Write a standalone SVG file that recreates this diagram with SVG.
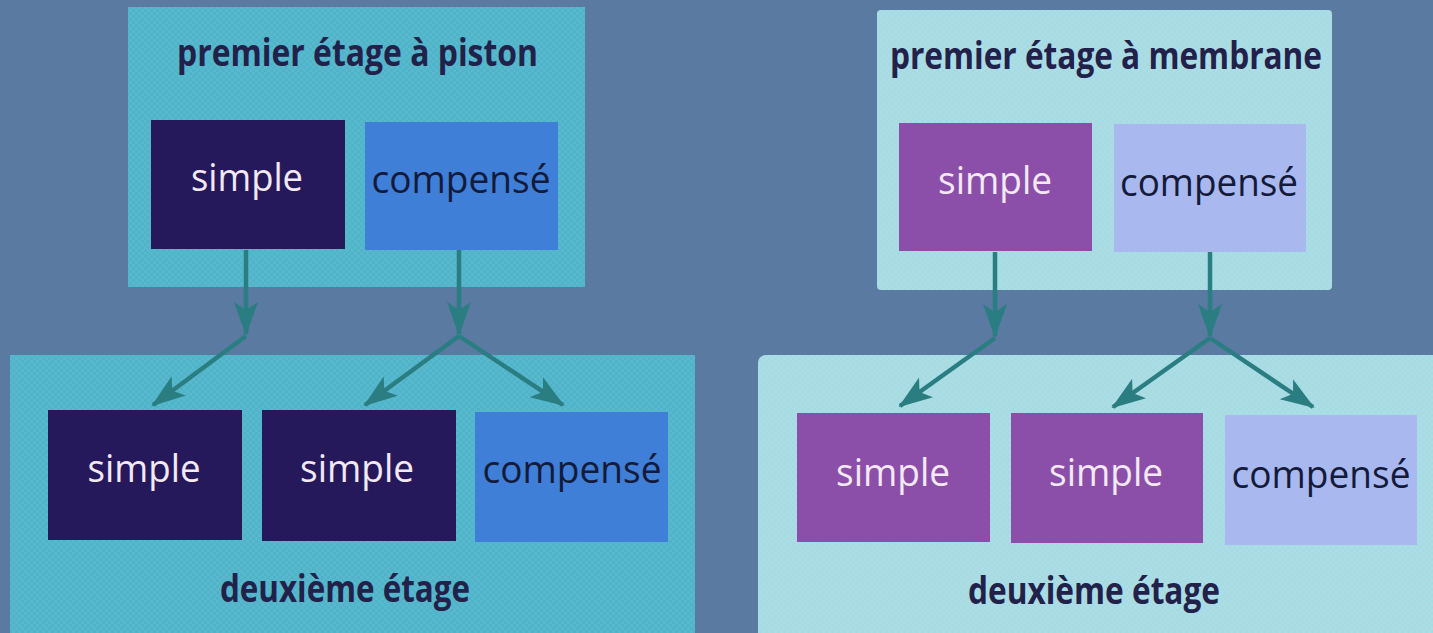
<svg xmlns="http://www.w3.org/2000/svg" width="1433" height="633" viewBox="0 0 1433 633">
<style>
.bg{fill:#5a7aa2}
.pA{fill:#4fb4c9}
.pB{fill:#a7dbe3}
.dk{fill:#26195b}
.bl{fill:#3f7fd7}
.pu{fill:#8b4fa9}
.lv{fill:#a9b9ef}
.title{font-family:"Open Sans","Liberation Sans",sans-serif;font-weight:bold;font-size:37px;fill:#22214a}
.lbl{font-family:"Open Sans","Liberation Sans",sans-serif;font-size:38px;text-anchor:middle}
.lw{fill:#f3e9f3}
.ld{fill:#141a3a}
.con{stroke:#2a7e82;stroke-width:4.5;fill:none;marker-end:url(#ah)}
</style>
<defs>
<marker id="ah" markerUnits="userSpaceOnUse" markerWidth="34" markerHeight="34" viewBox="0 0 34 34" refX="32" refY="17" orient="auto">
<path d="M0,5 L34,17 L0,29 L8,17 Z" fill="#2a7e82"/>
</marker>
<pattern id="tex" width="6" height="6" patternUnits="userSpaceOnUse">
<rect width="3" height="3" fill="#ffffff" opacity="0.06"/>
<rect x="3" y="3" width="3" height="3" fill="#ffffff" opacity="0.06"/>
</pattern>
</defs>
<rect class="bg" width="1433" height="633"/>

<g id="left-top">
<rect class="pA" x="128" y="7" width="457" height="280"/>
<rect fill="url(#tex)" x="128" y="7" width="457" height="280"/>
<text class="title" x="177" y="66" textLength="361" lengthAdjust="spacingAndGlyphs">premier étage à piston</text>
</g>
<g id="lt-simple">
<rect class="dk" x="151" y="120" width="194" height="129"/>
<text class="lbl lw" x="247" y="191" textLength="112" lengthAdjust="spacingAndGlyphs">simple</text>
</g>
<g id="lt-compense">
<rect class="bl" x="365" y="122" width="193" height="128"/>
<text class="lbl ld" x="461" y="193" textLength="179" lengthAdjust="spacingAndGlyphs">compensé</text>
</g>

<g id="left-bottom">
<rect class="pA" x="10" y="355" width="685" height="290"/>
<rect fill="url(#tex)" x="10" y="355" width="685" height="290"/>
<text class="title" x="220" y="602" textLength="250" lengthAdjust="spacingAndGlyphs">deuxième étage</text>
</g>
<g id="lb-simple1">
<rect class="dk" x="48" y="410" width="194" height="130"/>
<text class="lbl lw" x="144" y="482" textLength="113" lengthAdjust="spacingAndGlyphs">simple</text>
</g>
<g id="lb-simple2">
<rect class="dk" x="262" y="410" width="194" height="131"/>
<text class="lbl lw" x="357" y="482" textLength="114" lengthAdjust="spacingAndGlyphs">simple</text>
</g>
<g id="lb-compense">
<rect class="bl" x="475" y="412" width="193" height="130"/>
<text class="lbl ld" x="572" y="483" textLength="179" lengthAdjust="spacingAndGlyphs">compensé</text>
</g>

<g id="right-top">
<rect class="pB" x="877" y="10" width="455" height="280" rx="4"/>
<rect fill="url(#tex)" x="877" y="10" width="455" height="280" rx="4"/>
<text class="title" x="890" y="69" textLength="432" lengthAdjust="spacingAndGlyphs">premier étage à membrane</text>
</g>
<g id="rt-simple">
<rect class="pu" x="899" y="123" width="193" height="128"/>
<text class="lbl lw" x="995" y="194" textLength="114" lengthAdjust="spacingAndGlyphs">simple</text>
</g>
<g id="rt-compense">
<rect class="lv" x="1114" y="124" width="192" height="128"/>
<text class="lbl ld" x="1209" y="196" textLength="178" lengthAdjust="spacingAndGlyphs">compensé</text>
</g>

<g id="right-bottom">
<rect class="pB" x="758" y="355" width="690" height="290" rx="8"/>
<rect fill="url(#tex)" x="758" y="355" width="690" height="290" rx="8"/>
<text class="title" x="968" y="604" textLength="252" lengthAdjust="spacingAndGlyphs">deuxième étage</text>
</g>
<g id="rb-simple1">
<rect class="pu" x="797" y="413" width="193" height="129"/>
<text class="lbl lw" x="893" y="486" textLength="114" lengthAdjust="spacingAndGlyphs">simple</text>
</g>
<g id="rb-simple2">
<rect class="pu" x="1011" y="413" width="192" height="130"/>
<text class="lbl lw" x="1106" y="486" textLength="114" lengthAdjust="spacingAndGlyphs">simple</text>
</g>
<g id="rb-compense">
<rect class="lv" x="1225" y="415" width="192" height="130"/>
<text class="lbl ld" x="1321" y="488" textLength="179" lengthAdjust="spacingAndGlyphs">compensé</text>
</g>

<g id="connectors">
<line class="con" x1="246" y1="250" x2="246" y2="334"/>
<line class="con" x1="246" y1="336" x2="153" y2="405"/>
<line class="con" x1="459" y1="250" x2="459" y2="334"/>
<line class="con" x1="459" y1="336" x2="365" y2="405"/>
<line class="con" x1="459" y1="336" x2="563" y2="405"/>
<line class="con" x1="995" y1="252" x2="995" y2="336"/>
<line class="con" x1="995" y1="338" x2="900" y2="406"/>
<line class="con" x1="1210" y1="252" x2="1210" y2="336"/>
<line class="con" x1="1210" y1="338" x2="1113" y2="407"/>
<line class="con" x1="1210" y1="338" x2="1313" y2="407"/>
</g>
</svg>
